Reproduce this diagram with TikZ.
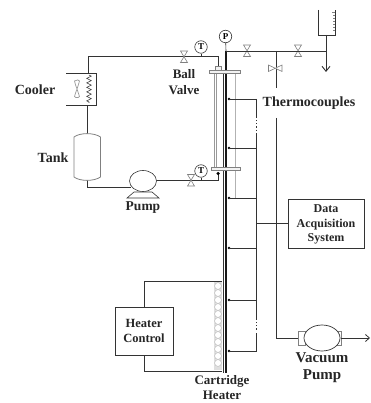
\documentclass[tikz,border=0pt]{standalone}
\usepackage{fontspec}
\setmainfont{Liberation Serif}
\usetikzlibrary{arrows.meta,decorations.pathmorphing,shapes.geometric}
\definecolor{ink}{gray}{0.2}
\tikzset{
 pipe/.style={draw=ink,line width=0.9pt},
 thin wire/.style={draw=ink,line width=0.6pt},
 grey wire/.style={draw=gray!80,line width=0.7pt},
 lab/.style={font=\bfseries\fontsize{14}{15}\selectfont,text=black!85,inner sep=0pt,align=center},
 gauge/.style={circle,draw=ink,line width=0.6pt,minimum size=12.5pt,inner sep=0pt,font=\bfseries\fontsize{9}{9}\selectfont,fill=white},
 boxx/.style={draw=ink,line width=0.8pt,inner sep=0pt,fill=white},
 tc/.style={circle,fill=black,inner sep=0pt,minimum size=2.6pt},
 bowtie/.style={draw=gray,line width=0.6pt,fill=white},
}
\newcommand{\vvalve}[2]{\draw[bowtie] (#1-3.5,#2-6) -- (#1+3.5,#2-6) -- (#1-3.5,#2+5.5) -- (#1+3.5,#2+5.5) -- cycle;}
\begin{document}
\begin{tikzpicture}[x=1pt,y=-1pt]
\useasboundingbox (0,0) rectangle (370,403);
% cooling loop pipes
\coordinate (a1) at (88.5,73); \coordinate (a2) at (88.5,56.5); \coordinate (a3) at (218,56.5); \coordinate (a4) at (218,66);
\draw[pipe] (a1) -- (a2) -- (a3) -- (a4);
\coordinate (b1) at (87.5,105); \coordinate (b2) at (87.5,134);
\draw[pipe] (b1) -- (b2);
\coordinate (c1) at (87.5,179); \coordinate (c2) at (87.5,187); \coordinate (c3) at (131,187);
\draw[pipe] (c1) -- (c2) -- (c3);
\coordinate (d1) at (156,180.5); \coordinate (d2) at (218,180.5); \coordinate (d3) at (218,174);
\draw[pipe] (d1) -- (d2) -- (d3);
\node[tc,minimum size=3.5pt] (d4) at (218,173.5) {};
% cooler
\coordinate (e1) at (66,73.5); \coordinate (e2) at (96,73.5); \coordinate (e3) at (96,105.5); \coordinate (e4) at (66,105.5);
\draw[thin wire] (e1) -- (e2) -- (e3) -- (e4);
\draw[thin wire,decorate,decoration={zigzag,segment length=4.5pt,amplitude=2.2pt}] (89,75) -- (89,103);
\draw[grey wire,fill=white] (74.5,81) .. controls (77,79.5) and (79,79.5) .. (79.5,81) .. controls (78,86) and (78,86) .. (77,89) .. controls (78,92) and (79,95) .. (79.5,96.5) .. controls (79,98) and (75,98) .. (74.5,96.5) .. controls (75,94) and (76,92) .. (77,89) .. controls (76,86) and (75,84) .. (74.5,81) -- cycle;
% tank
\draw[draw=gray,line width=0.8pt,fill=white] (74,137) .. controls (80,132.5) and (94,132.5) .. (100.5,137) -- (100.5,177) .. controls (94,181.5) and (80,181.5) .. (74,177) -- cycle;
% pump
\draw[thin wire,fill=white] (127,198) -- (134,192) -- (152,192) -- (159,198) -- cycle;
\draw[thin wire,fill=white] (143,181) ellipse (13.5pt and 10.5pt);
% valves
\vvalve{184}{57}
\vvalve{191}{180.5}
\vvalve{247}{51}
\vvalve{298}{51}
% gauges
\node[gauge] (gt1) at (201,47) {T};
\draw[thin wire] (gt1) -- (201,56.5);
\node[gauge] (gt2) at (201,171) {T};
\draw[thin wire] (gt2) -- (201,180.5);
\node[gauge] (gp) at (225.5,36.5) {P};
% column
\draw[grey wire,line width=1pt] (214.5,74) -- (214.5,167);
\draw[grey wire,line width=1pt] (216.5,74) -- (216.5,167);
\draw[draw=gray!60,line width=0.6pt] (235,74) -- (235,198);
\draw[draw=ink,line width=0.7pt] (223,74) -- (223,373);
\draw[draw=black!90,line width=2.2pt] (226.2,51) -- (226.2,373);
\draw[thin wire] (gp) -- (226,51);
\draw[boxx,draw=gray,fill=white!90!gray] (209,70) rectangle (240,73);
\draw[boxx,draw=gray,fill=white!90!gray] (215,66) rectangle (221,70);
\draw[boxx,draw=gray,fill=white!90!gray] (211,167) rectangle (240,170);
% vent line
\coordinate (f1) at (226,51); \coordinate (f2) at (326,51);
\draw[pipe] (f1) -- (f2);
\draw[pipe] (276,51) -- (276,88);
\draw[bowtie] (268.5,65) -- (268.5,71.5) -- (282,65) -- (282,71.5) -- cycle;
\draw[pipe] (276,118) -- (276,338) -- (298,338);
% beaker
\draw[pipe] (318,10) -- (318,35) -- (335,35) -- (335,10);
\draw[draw=gray,line width=0.4pt] (332,12) -- (335,12) (333,15) -- (335,15) (333,18) -- (335,18) (333,21) -- (335,21) (333,24) -- (335,24) (333,27) -- (335,27) (333,30) -- (335,30);
\draw[pipe,-{Straight Barb[length=5pt,width=8pt,line width=0.9pt]}] (326,35) -- (326,72);
% thermocouples
\foreach \y in {99,148,198,248,300,351}{
 \node[tc] at (229,\y) {};
 \draw[thin wire] (229,\y) -- (256.5,\y);
}
\draw[thin wire] (256.5,99) -- (256.5,118);
\draw[thin wire,dash pattern=on 1.2pt off 2pt] (256,120) -- (256,130);
\draw[thin wire] (256.5,133) -- (256.5,320);
\draw[thin wire,dash pattern=on 1.2pt off 2pt] (256,322) -- (256,331);
\draw[thin wire] (256.5,333) -- (256.5,351);
% DAQ
\node[boxx,minimum width=76pt,minimum height=49pt] (daq) at (326,223.5) {};
\node[lab,font=\bfseries\fontsize{12}{14.5}\selectfont] (daqt) at (326,224.5) {Data\\Acquisition\\System};
\coordinate (g1) at (256.5,223.5);
\draw[thin wire] (g1) -- (daq);
% heater
\fill[gray!25] (214,282) rectangle (222,370);
\foreach \y in {286,293,...,367}{
 \draw[gray!55,fill=white,line width=0.4pt] (218,\y) circle (3.4pt);
}
\node[boxx,minimum width=58pt,minimum height=48pt,align=center,font=\bfseries\fontsize{12.5}{15}\selectfont,text=black!85] (hc) at (144,331) {Heater\\Control};
\coordinate (h1) at (144,281.5); \coordinate (h2) at (222,281.5); \coordinate (h3) at (144,371); \coordinate (h4) at (222,371);
\draw[thin wire] (hc.north) -- (h1) -- (h2);
\draw[thin wire] (hc.south) -- (h3) -- (h4);
% vacuum pump
\draw[boxx,draw=gray] (298,331) rectangle (305,345);
\draw[boxx,draw=gray] (336,331) rectangle (341,345);
\node[ellipse,draw=ink,line width=0.7pt,minimum width=36pt,minimum height=26pt,fill=white,inner sep=0pt] (vp) at (322,338) {};
\coordinate (vp2) at (370,338);
\draw[pipe,-{Straight Barb[length=4pt,width=7pt,line width=0.8pt]}] (341,338) -- (vp2);
% labels
\node[lab] at (35,90) {Cooler};
\node[lab] at (53,158) {Tank};
\node[lab,font=\bfseries\fontsize{13}{16}\selectfont] at (184,82.5) {Ball\\Valve};
\node[lab,font=\bfseries\fontsize{13.5}{16}\selectfont] at (143,208) {Pump};
\node[lab] at (309,103) {Thermocouples};
\node[lab,font=\bfseries\fontsize{15}{17}\selectfont] at (322,368) {Vacuum\\Pump};
\node[lab,font=\bfseries\fontsize{13}{14.5}\selectfont] at (222,387.5) {Cartridge\\Heater};
\end{tikzpicture}
\end{document}
